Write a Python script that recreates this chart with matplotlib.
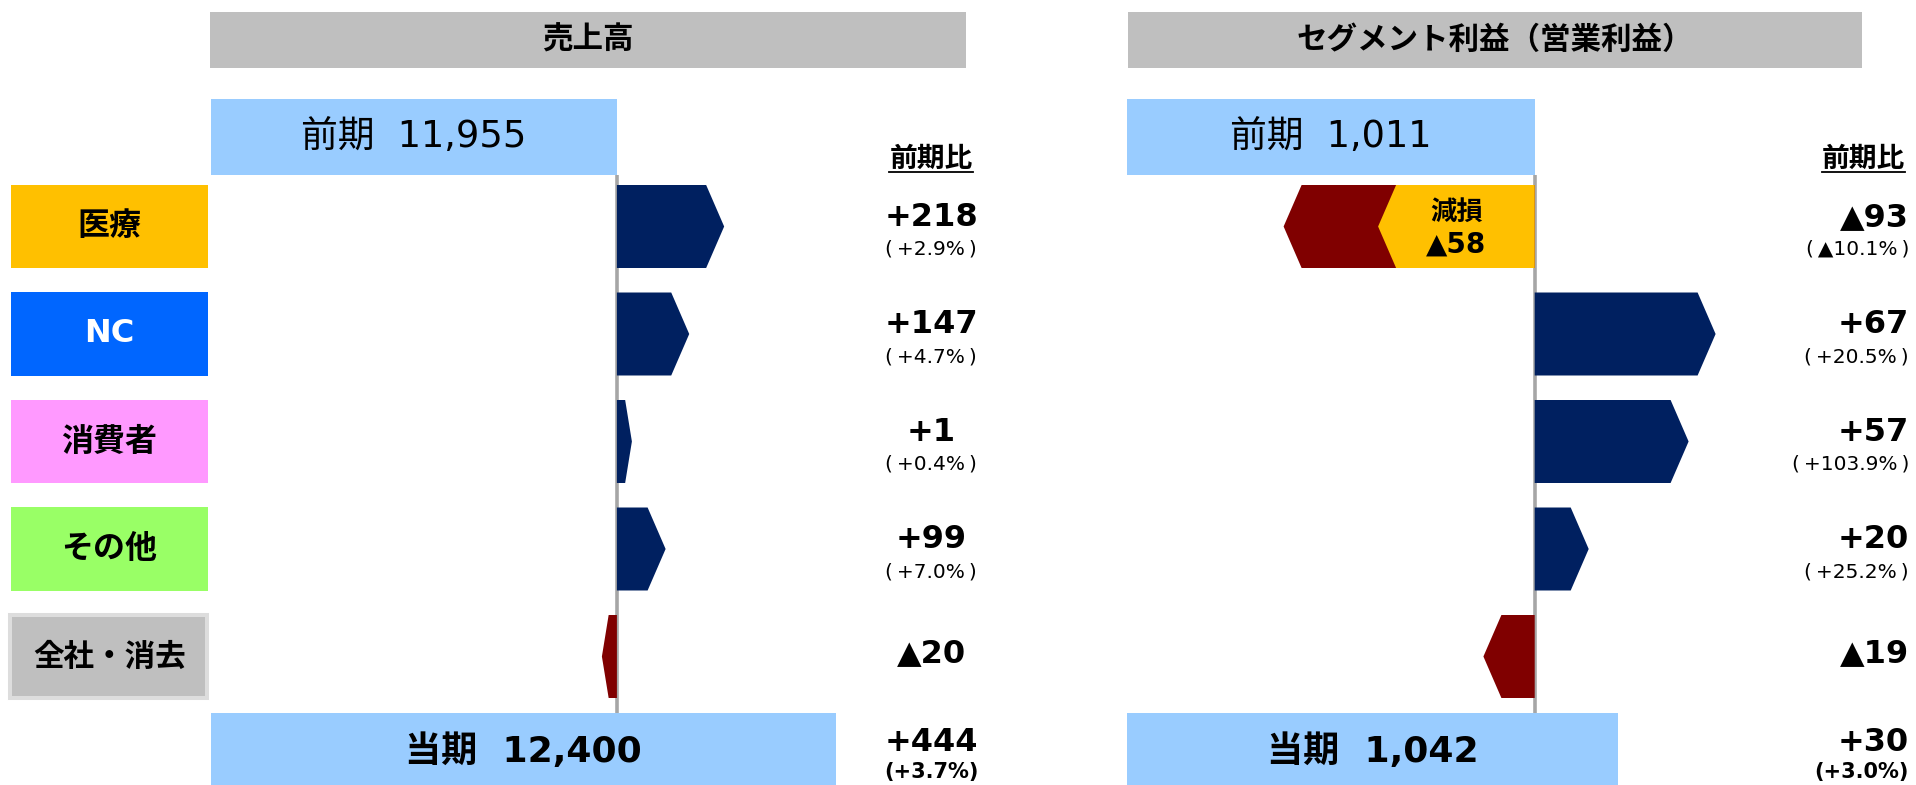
import matplotlib
matplotlib.use('Agg')
import matplotlib.pyplot as plt
from matplotlib.patches import Rectangle, Polygon
from matplotlib.transforms import blended_transform_factory
from matplotlib.lines import Line2D

# ---------------- data ----------------
segments = ['医療', 'NC', '消費者', 'その他', '全社・消去']
segment_colors = ['#FFC000', '#0066FF', '#FF99FF', '#99FF66', '#BFBFBF']
segment_text_colors = ['black', 'white', 'black', 'black', 'black']

panel_titles = ['売上高', 'セグメント利益（営業利益）']
prev_label = '前期'
cur_label = '当期'
ratio_header = '前期比'

sales_prev = 11955
sales_cur = 12400
sales_delta = [218, 147, 1, 99, -20]
sales_pct = [2.9, 4.7, 0.4, 7.0, None]
sales_total_delta = 444
sales_total_pct = 3.7

profit_prev = 1011
profit_cur = 1042
profit_delta = [-93, 67, 57, 20, -19]
profit_pct = [-10.1, 20.5, 103.9, 25.2, None]
profit_total_delta = 30
profit_total_pct = 3.0

impairment_label = '減損'
impairment_segment = '医療'
impairment = -58

# ---------------- style / layout ----------------
W, H = 1916, 785
FAM = ['DejaVu Sans', 'Noto Sans CJK JP']
CJK = ['Noto Sans CJK JP', 'DejaVu Sans']
C_TOTAL = '#99CCFF'
C_POS = '#002060'
C_NEG = '#800000'
C_HEAD = '#BFBFBF'
C_AXIS = '#A6A6A6'

ROW0_PX, ROW_PX = 226.5, 107.5
PREV_ROW, CUR_ROW = -0.833, 4.88
TOTAL_H, SEG_H, BOX_H = 0.707, 0.772, 0.78
TIP_PX, MIN_PX = 18, 15

fig = plt.figure(figsize=(W / 100, H / 100), dpi=100)
fig.patch.set_facecolor('white')


def fx(px):
    return px / W


def fy(py):
    return 1 - py / H


def fmt_delta(v):
    return ('+' if v >= 0 else '▲') + f'{abs(v):,}'


def fmt_pct(p, spaced=True):
    s = ('+' if p >= 0 else '▲') + f'{abs(p):.1f}%'
    return f'(\u2009{s}\u2009)' if spaced else f'({s})'


def arrow(ax, base, delta, row, h, k, color, z=3):
    sgn = 1 if delta >= 0 else -1
    length_px = max(abs(delta) * k, MIN_PX)
    tip_px = min(TIP_PX, 0.45 * length_px)
    end = base + sgn * length_px / k
    sh = end - sgn * tip_px / k
    pts = [(base, row - h / 2), (sh, row - h / 2), (end, row),
           (sh, row + h / 2), (base, row + h / 2)]
    ax.add_patch(Polygon(pts, closed=True, facecolor=color, edgecolor='none', zorder=z))
    return end


panels = [
    dict(title=panel_titles[0], prev=sales_prev, cur=sales_cur, delta=sales_delta,
         pct=sales_pct, tdelta=sales_total_delta, tpct=sales_total_pct,
         ax_l=211, ax_r=1000, x0=11130, k=0.492, head=(210, 966),
         col_x=931, col_ha='center', col_head_x=931, imp=False),
    dict(title=panel_titles[1], prev=profit_prev, cur=profit_cur, delta=profit_delta,
         pct=profit_pct, tdelta=profit_total_delta, tpct=profit_total_pct,
         ax_l=1127, ax_r=1916, x0=860, k=2.7, head=(1128, 1862),
         col_x=1909, col_ha='right', col_head_x=1905, imp=True),
]

ylim = ((H - ROW0_PX) / ROW_PX, -ROW0_PX / ROW_PX)
ratio_texts = []
axes = []

for P in panels:
    ax = fig.add_axes([fx(P['ax_l']), 0, (P['ax_r'] - P['ax_l']) / W, 1])
    ax.set_xlim(P['x0'], P['x0'] + (P['ax_r'] - P['ax_l']) / P['k'])
    ax.set_ylim(*ylim)
    ax.axis('off')
    axes.append(ax)
    bt = blended_transform_factory(fig.transFigure, ax.transData)

    # header
    fig.patches.append(Rectangle((fx(P['head'][0]), fy(68)), (P['head'][1] - P['head'][0]) / W,
                                 56 / H, transform=fig.transFigure, facecolor=C_HEAD,
                                 edgecolor='none', zorder=0))
    fig.text(fx((P['head'][0] + P['head'][1]) / 2), fy(40), P['title'], ha='center',
             va='center', fontsize=22, fontweight='bold', family=CJK)

    prev, cur, x0 = P['prev'], P['cur'], P['x0']
    # totals
    ax.barh([PREV_ROW], [prev - x0], left=x0, height=TOTAL_H, color=C_TOTAL, zorder=2)
    ax.barh([CUR_ROW], [cur - x0], left=x0, height=TOTAL_H, color=C_TOTAL, zorder=2)
    ax.text((x0 + prev) / 2, PREV_ROW, f'{prev_label}  {prev:,}', ha='center', va='center',
            fontsize=26.5, family=FAM, zorder=5)
    ax.text((x0 + cur) / 2, CUR_ROW, f'{cur_label}  {cur:,}', ha='center', va='center',
            fontsize=26, fontweight='bold', family=FAM, zorder=5, clip_on=False)

    # axis line
    ax.vlines(prev, PREV_ROW + TOTAL_H / 2, CUR_ROW - TOTAL_H / 2, color=C_AXIS,
              lw=2.6, zorder=1)

    # segment arrows
    for i, d in enumerate(P['delta']):
        arrow(ax, prev, d, i, SEG_H, P['k'], C_POS if d >= 0 else C_NEG)
        if P['imp'] and segments[i] == impairment_segment:
            end = arrow(ax, prev, impairment, i, SEG_H, P['k'], segment_colors[i], z=4)
            cx = (prev + end) / 2
            ax.annotate(impairment_label, xy=(cx, i), xytext=(0, 10), textcoords='offset points',
                        ha='center', va='center', fontsize=19, fontweight='bold', family=CJK, zorder=6)
            ax.annotate(fmt_delta(impairment), xy=(cx, i), xytext=(0, -13),
                        textcoords='offset points', ha='center', va='center', fontsize=20,
                        fontweight='bold', family=FAM, zorder=6)

    # ratio column
    t = fig.text(fx(P['col_head_x']), fy(159), ratio_header, ha=P['col_ha'], va='center',
                 fontsize=20, fontweight='bold', family=CJK)
    ratio_texts.append(t)
    cx = fx(P['col_x'])
    for i, d in enumerate(P['delta']):
        p = P['pct'][i]
        if p is None:
            ax.annotate(fmt_delta(d), xy=(cx, i), xycoords=bt, xytext=(0, 2),
                        textcoords='offset points', ha=P['col_ha'], va='center', fontsize=23,
                        fontweight='bold', family=FAM, annotation_clip=False)
        else:
            ax.annotate(fmt_delta(d), xy=(cx, i), xycoords=bt, xytext=(0, 6.5),
                        textcoords='offset points', ha=P['col_ha'], va='center', fontsize=23,
                        fontweight='bold', family=FAM, annotation_clip=False)
            ax.annotate(fmt_pct(p), xy=(cx, i), xycoords=bt, xytext=(0, -16.5),
                        textcoords='offset points', ha=P['col_ha'], va='center', fontsize=14.5,
                        family=FAM, annotation_clip=False)
    ax.annotate(fmt_delta(P['tdelta']), xy=(cx, CUR_ROW), xycoords=bt, xytext=(0, 6.5),
                textcoords='offset points', ha=P['col_ha'], va='center', fontsize=23,
                fontweight='bold', family=FAM, annotation_clip=False)
    ax.annotate(fmt_pct(P['tpct'], spaced=False), xy=(cx, CUR_ROW), xycoords=bt, xytext=(0, -15),
                textcoords='offset points', ha=P['col_ha'], va='center', fontsize=15,
                fontweight='bold', family=FAM, annotation_clip=False)

# category boxes (left side)
ax = axes[0]
bt = blended_transform_factory(fig.transFigure, ax.transData)
for i, (name, col, tc) in enumerate(zip(segments, segment_colors, segment_text_colors)):
    last = (i == len(segments) - 1)
    rect = Rectangle((fx(11 if not last else 10), i - BOX_H / 2), 197 / W, BOX_H,
                     transform=bt, facecolor=col,
                     edgecolor='#DDDDDD' if last else 'none', lw=2.9 if last else 0,
                     clip_on=False, zorder=3)
    ax.add_patch(rect)
    ax.text(fx(109.5), i, name, transform=bt, ha='center', va='center',
            fontsize=22 if last else 23,
            fontweight='bold', color=tc, family=FAM if name.isascii() else CJK, zorder=4,
            clip_on=False)

# underline ratio headers
fig.canvas.draw()
r = fig.canvas.get_renderer()
for t in ratio_texts:
    bb = t.get_window_extent(renderer=r)
    y = (bb.y0 + 1) / H
    fig.lines.append(Line2D([bb.x0 / W, bb.x1 / W], [y, y], transform=fig.transFigure,
                            color='black', lw=1.3))

fig.savefig('out.png', dpi=100)
